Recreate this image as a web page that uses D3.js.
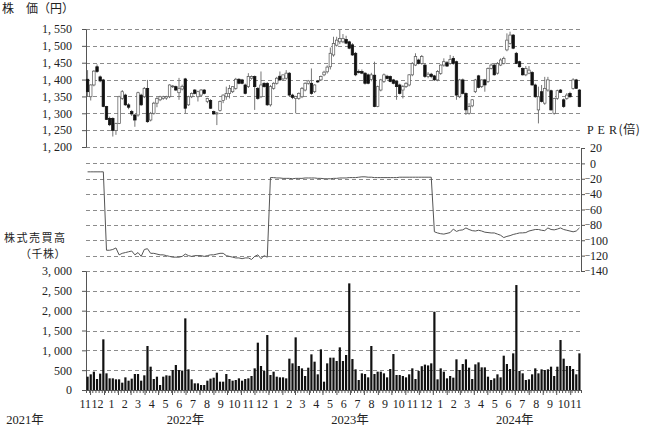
<!DOCTYPE html>
<html>
<head>
<meta charset="utf-8">
<script src="https://cdn.jsdelivr.net/npm/d3@7/dist/d3.min.js"></script>
<style>
html,body{margin:0;padding:0;background:#fff;}
svg{display:block;}
text{font-family:"Liberation Serif","DejaVu Serif","Noto Sans CJK JP",serif;fill:#222;}
.jp{font-family:"Noto Sans CJK JP","Noto Sans CJK SC",sans-serif;}
</style>
</head>
<body>
<svg id="chart" width="648" height="427"></svg>
<script>
// ---- data (weekly, starting week of 2021-11-22) ----
const firstWeek = "2021-11-22";
const open = [1401,1349,1384,1438,1408,1399,1320,1285,1285,1249,
1270,1344,1354,1325,1305,1295,1295,1354,1349,1374,
1280,1300,1330,1340,1344,1345,1349,1379,1379,1361,
1372,1402,1325,1349,1369,1349,1354,1369,1335,1338,
1305,1298,1308,1338,1349,1359,1364,1374,1401,1399,
1384,1379,1404,1409,1374,1349,1389,1389,1325,1374,
1389,1410,1402,1404,1419,1354,1344,1344,1349,1369,
1389,1389,1364,1396,1399,1414,1423,1438,1473,1502,
1512,1512,1519,1512,1503,1478,1424,1424,1419,1414,
1400,1413,1320,1369,1394,1410,1409,1399,1394,1384,
1369,1379,1384,1414,1443,1458,1448,1443,1409,1416,
1411,1399,1418,1443,1450,1448,1463,1453,1349,1399,
1359,1300,1322,1364,1411,1379,1399,1394,1433,1443,
1419,1443,1448,1488,1507,1532,1478,1453,1433,1414,
1419,1421,1384,1310,1364,1330,1369,1367,1300,1344,
1369,1340,1344,1359,1374,1399,1369];
const high = [1428,1386,1428,1445,1412,1402,1322,1290,1288,1272,
1352,1369,1358,1330,1310,1298,1364,1358,1378,1399,
1304,1334,1348,1352,1352,1352,1386,1384,1382,1405,
1385,1405,1352,1362,1372,1367,1372,1372,1346,1342,
1308,1304,1338,1356,1379,1384,1379,1405,1404,1402,
1388,1419,1412,1412,1378,1424,1392,1392,1384,1392,
1408,1424,1414,1428,1422,1358,1352,1362,1378,1392,
1399,1433,1386,1398,1412,1426,1442,1495,1527,1527,
1547,1535,1530,1515,1508,1482,1430,1430,1422,1418,
1420,1453,1382,1402,1418,1414,1412,1402,1398,1388,
1384,1392,1416,1452,1478,1462,1473,1448,1422,1420,
1414,1428,1445,1463,1455,1473,1470,1456,1402,1403,
1362,1330,1342,1402,1414,1400,1402,1436,1448,1446,
1452,1463,1468,1537,1542,1535,1482,1456,1436,1440,
1440,1425,1388,1379,1384,1408,1408,1370,1346,1370,
1372,1344,1360,1364,1404,1402,1372];
const low = [1349,1338,1380,1420,1392,1318,1280,1262,1231,1236,
1268,1340,1322,1312,1292,1260,1290,1322,1345,1272,
1276,1296,1318,1336,1340,1340,1345,1375,1366,1340,
1368,1300,1322,1345,1356,1335,1350,1356,1330,1313,
1296,1265,1305,1330,1340,1344,1360,1370,1386,1386,
1356,1375,1400,1310,1340,1345,1376,1322,1320,1370,
1385,1396,1396,1400,1350,1342,1300,1340,1345,1365,
1385,1355,1360,1390,1396,1410,1418,1430,1468,1498,
1505,1508,1505,1490,1470,1410,1418,1416,1385,1386,
1395,1318,1318,1365,1390,1400,1392,1386,1340,1356,
1344,1375,1380,1410,1440,1445,1444,1405,1404,1404,
1396,1395,1414,1438,1438,1444,1444,1340,1345,1356,
1295,1296,1318,1360,1374,1375,1364,1390,1430,1412,
1415,1440,1445,1484,1504,1490,1446,1436,1412,1410,
1416,1382,1346,1270,1332,1325,1364,1308,1296,1340,
1360,1316,1340,1346,1370,1372,1318];
const close = [1364,1384,1425,1424,1396,1320,1282,1266,1249,1270,
1349,1364,1325,1318,1298,1280,1361,1325,1374,1275,
1300,1330,1344,1349,1349,1350,1384,1381,1369,1374,
1380,1315,1349,1359,1359,1364,1369,1359,1344,1315,
1298,1301,1335,1354,1359,1374,1379,1401,1389,1389,
1359,1409,1409,1379,1344,1384,1379,1325,1379,1389,
1404,1399,1414,1419,1354,1347,1350,1359,1374,1389,
1396,1359,1384,1393,1409,1422,1437,1478,1507,1517,
1522,1522,1508,1493,1473,1414,1421,1419,1389,1389,
1414,1320,1379,1399,1414,1403,1394,1389,1379,1359,
1379,1389,1414,1448,1468,1448,1468,1409,1416,1409,
1399,1424,1443,1453,1440,1460,1448,1354,1399,1359,
1310,1320,1340,1399,1377,1399,1384,1433,1443,1414,
1448,1458,1463,1517,1532,1493,1448,1438,1414,1433,
1428,1384,1349,1349,1335,1374,1399,1310,1344,1367,
1362,1320,1354,1349,1399,1374,1320];
const volume = [336,395,462,277,412,1277,420,294,294,269,
269,185,319,235,286,403,403,235,370,1109,
588,277,336,126,336,370,361,504,630,504,
490,1806,521,269,168,168,126,126,235,286,
310,437,210,210,403,277,235,252,294,235,
277,294,353,546,1193,605,479,1386,378,462,
336,319,319,294,790,672,1327,605,546,353,
563,899,714,395,1025,210,672,815,815,731,
1075,731,882,2688,781,521,252,420,403,319,
1109,403,462,462,420,319,529,907,378,378,
353,319,395,546,277,479,600,640,620,672,
1974,269,546,462,294,353,311,773,504,655,
773,563,277,647,697,571,571,336,252,294,
395,319,865,655,529,924,2646,479,420,252,
269,395,546,420,521,504,521,588,353,588,
1260,790,605,605,529,395,924];
const per = [-11,-11,-11,-11,-11,-11,
-113,-113,-112,-110,-119,-117,-116,-115,-114,-119,
-116,-121,-112,-111,-117,-117,-118,-119,-119,-120,
-121,-122,-122,-122,-121,-118,-120,-121,-120,-120,
-120,-121,-120,-119,-119,-118,-117,-117,-120,-121,
-122,-123,-123,-124,-123,-123,-125,-121,-119,-124,
-120,-122,
-18.5,-18.5,-19,-19,-19.5,-19.5,-19.5,-20,-19.5,-19.5,-19.5,-19,-19,-19,-19,
-19.5,-19.5,-20,-20,-20,-19.5,-19.5,-19,-19,-19,-18.5,-18.5,-18.5,-18,
-17.5,-17.5,-18,-18,-18.5,-18.5,-18.5,-18.5,-18.5,-18.5,-18.5,-18.5,-18,-18,-18,-18,-18,-18,-18,-18,-18,-18,-18,
-89,-90.5,-91.5,-92,-91,-90,-85.5,-88.5,-87,-86.5,
-84,-86,-87.5,-88,-87,-88,-89.5,-90,-90.5,-90.5,
-92,-93.5,-96.5,-95,-94,-92.5,-91.5,-90.5,-90.4,-90,
-88,-87,-86,-86,-87,-87.5,-84,-86,-86.5,-85.5,
-84,-86,-87,-88,-89,-88,-84];

const priceTicks = [1200,1250,1300,1350,1400,1450,1500,1550];
const perTicks = [20,0,-20,-40,-60,-80,-100,-120,-140];
const volumeTicks = [0,500,1000,1500,2000,2500,3000];
const years = [2021,2022,2023,2024];
const yearSuffix = "年";
const titlePrice = "株　価（円）";
const titlePer = ["P E R", "(倍)"];
const titleVolume = ["株式売買高", "（千株）"];

// ---- scales ----
const svg = d3.select("#chart");
const t0 = d3.timeParse("%Y-%m-%d")(firstWeek);
const weeks = d3.range(open.length + 1).map(i => d3.timeDay.offset(t0, 7 * i));
const x = d3.scaleTime().domain([weeks[0], weeks[weeks.length - 1]]).range([86, 581]);
const cx = i => (x(weeks[i]) + x(weeks[i + 1])) / 2;
const yP = d3.scaleLinear().domain([1200, 1550]).range([147, 29]);
const yE = d3.scaleLinear().domain([-140, 20]).range([271, 148]);
const yV = d3.scaleLinear().domain([0, 3000]).range([390, 271]);
const fmt = v => d3.format(",")(v).replace(",", ", ");

// ---- grid ----
const grid = svg.append("g").attr("stroke", "#8c8c8c").attr("stroke-width", 1).attr("stroke-dasharray", "4,3");
function hline(y) {
  const yy = Math.round(y) + 0.5;
  grid.append("line").attr("x1", 86).attr("x2", 581).attr("y1", yy).attr("y2", yy);
}
priceTicks.forEach(v => hline(yP(v)));
perTicks.filter(v => v < 20 && v > -140).forEach(v => hline(yE(v)));
volumeTicks.filter(v => v > 0).forEach(v => hline(yV(v)));

// ---- axes ----
function styleAxis(g) {
  g.attr("font-size", 12);
  g.selectAll("path.domain").attr("stroke", "#555");
  g.selectAll(".tick line").attr("stroke", "#555");
  g.selectAll(".tick text").attr("fill", "#222");
}
svg.append("g").attr("transform", "translate(86,0)")
  .call(d3.axisLeft(yP).tickValues(priceTicks).tickSize(4).tickSizeOuter(0).tickPadding(10).tickFormat(fmt))
  .call(styleAxis);
svg.append("g").attr("transform", "translate(86,0)")
  .call(d3.axisLeft(yV).tickValues(volumeTicks).tickSize(4).tickSizeOuter(0).tickPadding(10).tickFormat(fmt))
  .call(styleAxis);
const axR = svg.append("g").attr("transform", "translate(581,0)")
  .call(d3.axisRight(yE).tickValues(perTicks).tickSize(4).tickSizeOuter(0).tickPadding(5).tickFormat(v => Math.abs(v)))
  .call(styleAxis);
axR.selectAll(".tick").filter(d => d < 0).append("text")
  .attr("x", 9.5).attr("dy", "0.25em").attr("text-anchor", "end").attr("font-size", 10).attr("fill", "#222").text("−");

// x axis: weekly ticks, month ticks, month labels
const d0 = x.domain()[0], d1 = x.domain()[1];
svg.append("g").attr("transform", "translate(0,390)")
  .call(d3.axisBottom(x).tickValues(weeks).tickSize(3).tickSizeOuter(0).tickFormat(""))
  .call(styleAxis);
const monthStarts = d3.timeMonth.range(d3.timeMonth.ceil(d0), d1);
svg.append("g").attr("transform", "translate(0,390)")
  .call(d3.axisBottom(x).tickValues(monthStarts).tickSize(5).tickSizeOuter(0).tickFormat(""))
  .call(styleAxis).call(g => g.select(".domain").remove());
const monthCenters = d3.timeMonth.range(d3.timeMonth.floor(d0), d1).map(m => {
  const s = Math.max(+m, +d0), e = Math.min(+d3.timeMonth.offset(m, 1), +d1);
  return new Date((s + e) / 2);
});
const mAxis = svg.append("g").attr("transform", "translate(0,390)")
  .call(d3.axisBottom(x).tickValues(monthCenters).tickSize(0).tickPadding(9).tickFormat(d => d.getMonth() + 1))
  .call(styleAxis).call(g => g.select(".domain").remove());
// nudge cramped labels at the partial months so they do not collide
(function () {
  const nodes = mAxis.selectAll(".tick text").nodes();
  const n = nodes.length;
  const info = nodes.map((t, k) => ({ t, c: x(monthCenters[k]), w: t.getComputedTextLength() }));
  function fix(a, b) {
    const ov = (a.c + a.w / 2) - (b.c - b.w / 2) + 0.6;
    if (ov > 0) d3.select(a.t).attr("x", -ov);
  }
  fix(info[0], info[1]);
  fix(info[n - 2], info[n - 1]);
})();

// year labels
svg.append("g").selectAll("text").data(years).join("text")
  .attr("x", d => Math.max(x(new Date(d, 6, 1)), 25))
  .attr("y", 424).attr("text-anchor", "middle").attr("font-size", 12.5)
  .text(d => d + yearSuffix);

// ---- volume bars ----
svg.append("g").selectAll("rect").data(volume).join("rect")
  .attr("x", (d, i) => cx(i) - 1.1).attr("width", 2.2)
  .attr("y", d => yV(d)).attr("height", d => yV(0) - yV(d))
  .attr("fill", "#111");

// ---- PER line ----
svg.append("path").datum(per)
  .attr("fill", "none").attr("stroke", "#555").attr("stroke-width", 1)
  .attr("d", d3.line().x((d, i) => cx(i)).y(d => yE(d)));

// ---- candlesticks ----
const candles = svg.append("g");
candles.selectAll("line").data(open).join("line")
  .attr("x1", (d, i) => cx(i)).attr("x2", (d, i) => cx(i))
  .attr("y1", (d, i) => yP(high[i])).attr("y2", (d, i) => yP(low[i]))
  .attr("stroke", "#666").attr("stroke-width", 0.9);
candles.selectAll("rect").data(open).join("rect")
  .attr("x", (d, i) => cx(i) - 1.25).attr("width", 2.5)
  .attr("y", (d, i) => yP(Math.max(open[i], close[i])))
  .attr("height", (d, i) => Math.max(Math.abs(yP(open[i]) - yP(close[i])), 0.8))
  .attr("fill", (d, i) => close[i] < open[i] ? "#111" : "#fff")
  .attr("stroke", (d, i) => close[i] < open[i] ? "#111" : "#555")
  .attr("stroke-width", 0.7);

// ---- titles ----
svg.append("text").attr("class", "jp").attr("x", 2).attr("y", 12.5).attr("font-size", 12).text(titlePrice);
const tp = svg.append("text").attr("x", 587).attr("y", 134).attr("font-size", 12).attr("letter-spacing", 0.6);
tp.append("tspan").text(titlePer[0]);
tp.append("tspan").attr("class", "jp").attr("dx", 1).text(titlePer[1]);
svg.append("text").attr("class", "jp").attr("x", 4).attr("y", 241.5)
  .attr("font-size", 11).attr("letter-spacing", 1.5).text(titleVolume[0]);
svg.append("text").attr("class", "jp").attr("x", 20).attr("y", 257.8)
  .attr("font-size", 11).attr("letter-spacing", 0.5).text(titleVolume[1]);
</script>
</body>
</html>
